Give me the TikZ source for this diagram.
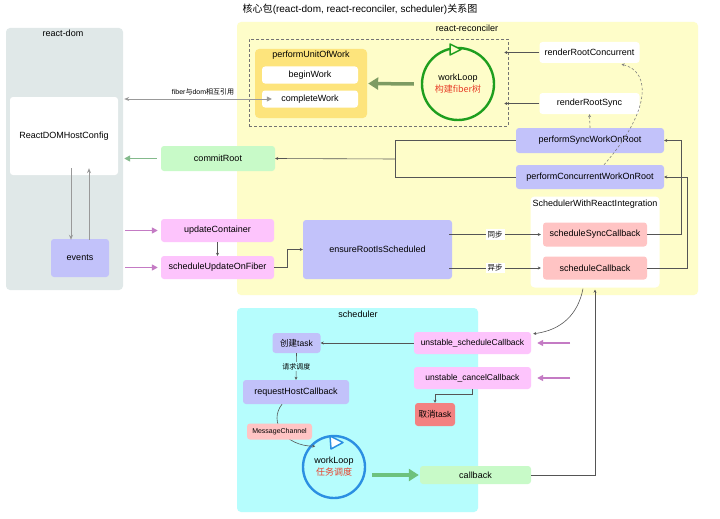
\documentclass[tikz,border=0pt]{standalone}
\usepackage{fontspec}
\setmainfont{Liberation Sans}
\newfontfamily\cjk{Noto Sans CJK SC}
\usetikzlibrary{arrows.meta,calc}
\definecolor{domc}{HTML}{E0E8E8}
\definecolor{recc}{HTML}{FEFDC9}
\definecolor{puowc}{HTML}{FDE47C}
\definecolor{lav}{HTML}{C2C2FA}
\definecolor{pinkc}{HTML}{FDC4FC}
\definecolor{pinkred}{HTML}{FFC4C4}
\definecolor{lgreen}{HTML}{C8FAC8}
\definecolor{cancelc}{HTML}{F38181}
\definecolor{cyanc}{HTML}{B6FDFD}
\definecolor{cgreen}{HTML}{1E9E1E}
\definecolor{cblue}{HTML}{2B8FE2}
\definecolor{redtxt}{HTML}{E8402A}
\definecolor{purparrow}{HTML}{C47BC4}
\definecolor{commitarrow}{HTML}{84BA8C}
\definecolor{olivearrow}{HTML}{7D9B62}
\definecolor{botarrow}{HTML}{6DC27E}
\definecolor{connc}{HTML}{555555}
\newcommand\fsn{\fontsize{9}{11}\selectfont}
\newcommand\fss{\fontsize{8.5}{10}\selectfont}
\newcommand\fst{\fontsize{7}{8}\selectfont}
\tikzset{
  panel/.style={rounded corners=4pt, inner sep=0pt},
  bx/.style={rounded corners=3pt, inner sep=0pt, font=\fsn, align=center},
  lbl/.style={inner sep=0pt, font=\fsn},
  conn/.style={draw=connc, line width=0.6pt},
  tip/.style={-{Stealth[length=3pt,width=3pt]}},
  greyarrow/.style={draw=gray!80, line width=0.8pt, -{Stealth[length=5pt,width=4pt]}},
  purparr/.style={draw=purparrow, line width=1.6pt, -{Triangle[length=6pt,width=6pt]}},
  thickarr/.style={line width=3.5pt, -{Triangle[length=10pt,width=12pt]}},
}
\begin{document}
\begin{tikzpicture}[x=1pt,y=-1pt]
\useasboundingbox (0,0) rectangle (720,519);
\fill[white] (0,0) rectangle (720,519);

% title
\node[lbl, font=\fontsize{10}{12}\selectfont] (title) at (360,9) {{\cjk 核心包}(react-dom, react-reconciler, scheduler){\cjk 关系图}};

% ---------- react-dom ----------
\node[panel, fill=domc, minimum width=117pt, minimum height=262pt] (dom) at (64.5,159) {};
\node[lbl] (domlbl) at (63,33) {react-dom};
\node[bx, fill=white, minimum width=108pt, minimum height=78pt] (hostcfg) at (64,136) {ReactDOMHostConfig};
\node[bx, fill=lav, minimum width=58pt, minimum height=38pt] (events) at (80,258) {events};
\draw[greyarrow] ($(hostcfg.south)+(7,-7)$) -- ($(events.north)+(-9,1)$);
\draw[greyarrow] ($(events.north)+(9,1)$) -- ($(hostcfg.south)+(25,-7)$);

% ---------- react-reconciler ----------
\node[panel, fill=recc, minimum width=461pt, minimum height=273pt] (rec) at (467.5,158.5) {};
\node[lbl] (reclbl) at (467,28) {react-reconciler};
\node[draw=gray!90!black, dashed, dash pattern=on 3pt off 2pt, line width=0.5pt, inner sep=0pt, minimum width=259pt, minimum height=87pt] (dbox) at (378.5,82.5) {};
\node[panel, fill=puowc, minimum width=112pt, minimum height=69pt] (puow) at (311,83.5) {};
\node[lbl] (puowlbl) at (311,55) {performUnitOfWork};
\node[bx, fill=white, minimum width=96pt, minimum height=17pt] (bw) at (310,75) {beginWork};
\node[bx, fill=white, minimum width=96pt, minimum height=17pt] (cw) at (310,99) {completeWork};

\node[circle, draw=cgreen, line width=2.4pt, minimum size=72pt, inner sep=0pt, align=center, font=\fsn] (wl1) at (458,84) {workLoop\\[1pt]{\cjk\color{redtxt}构建fiber树}};
\draw[cgreen, line width=1.5pt, fill=recc, line join=round] (450,44) -- (461,49.5) -- (450,55) -- cycle;
\draw[olivearrow, thickarr] ($(wl1.west)+(-7,0)$) -- ($(puow.east)+(1,0)$);

\node[bx, fill=white, minimum width=100pt, minimum height=21pt] (rrc) at (589.5,52.5) {renderRootConcurrent};
\node[bx, fill=white, minimum width=100pt, minimum height=21pt] (rrs) at (589.5,103.5) {renderRootSync};
\draw[conn, tip] (rrc.west) -- ($(dbox.east |- rrc.west)+(-4,0)$);
\draw[conn, tip] (rrs.west) -- ($(dbox.east |- rrs.west)+(-4,0)$);

\node[bx, fill=lav, minimum width=148pt, minimum height=25pt] (psync) at (590,140.5) {performSyncWorkOnRoot};
\node[bx, fill=lav, minimum width=148pt, minimum height=24pt] (pconc) at (590,177) {performConcurrentWorkOnRoot};
\draw[conn, dashed, dash pattern=on 2.5pt off 2pt, draw=gray, tip] (psync.north) -- (rrs.south);
\draw[conn, dashed, dash pattern=on 2.5pt off 2pt, draw=gray, tip] ($(pconc.north)+(14,0)$) .. controls (650,112) and (652,72) .. ($(rrc.south)+(32,1)$);

\node[bx, fill=lgreen, minimum width=114pt, minimum height=25pt] (commit) at (218,158.5) {commitRoot};
\draw[commitarrow, line width=1.6pt, -{Triangle[length=6pt,width=6pt]}] ($(commit.west)+(-4,0)$) -- ($(dom.east |- commit.west)+(1,0)$);
\coordinate (jx) at (395,159);
\draw[conn] (psync.west) -| (jx);
\draw[conn] (pconc.west) -| (jx);
\draw[conn, tip] (jx) -- (commit.east);

\node[bx, fill=pinkc, minimum width=113pt, minimum height=23pt] (upd) at (217.5,230.5) {updateContainer};
\node[bx, fill=pinkc, minimum width=113pt, minimum height=23pt] (suof) at (217.5,267.5) {scheduleUpdateOnFiber};
\draw[purparr] ($(dom.east |- upd.west)+(2,0)$) -- ($(upd.west)+(-3,0)$);
\draw[purparr] ($(dom.east |- suof.west)+(2,0)$) -- ($(suof.west)+(-3,0)$);
\draw[conn, tip] (upd.south) -- (suof.north);

\node[bx, fill=lav, minimum width=149pt, minimum height=59pt] (ensure) at (377.5,249.5) {ensureRootIsScheduled};
\draw[conn, tip] (suof.east) -- ++(13,0) |- (ensure.west);

\node[panel, fill=white, minimum width=129pt, minimum height=91pt] (swri) at (595,242) {};
\node[lbl] (swrilbl) at (595,204) {SchedulerWithReactIntegration};
\node[bx, fill=pinkred, minimum width=104pt, minimum height=24pt] (ssc) at (595,234.5) {scheduleSyncCallback};
\node[bx, fill=pinkred, minimum width=104pt, minimum height=23pt] (sc) at (595,268) {scheduleCallback};
\draw[conn, tip] ($(ensure.east |- ssc.west)+(-3,0)$) -- node[lbl, fill=white, inner sep=2pt, font=\cjk\fontsize{7.5}{9}\selectfont] (tongbu) {同步} ($(ssc.west)+(-2,0)$);
\draw[conn, tip] ($(ensure.east |- sc.west)+(-3,0)$) -- node[lbl, fill=white, inner sep=2pt, font=\cjk\fontsize{7.5}{9}\selectfont] (yibu) {异步} ($(sc.west)+(-2,0)$);
\draw[conn, tip] (ssc.east) -- ++(34,0) |- (psync.east);
\draw[conn, tip] (sc.east) -- ++(40,0) |- (pconc.east);

% ---------- scheduler ----------
\node[panel, fill=cyanc, minimum width=241pt, minimum height=204pt] (sched) at (357.5,410) {};
\node[lbl] (schedlbl) at (358,314) {scheduler};
\node[bx, fill=lav, minimum width=48pt, minimum height=20pt, font=\fss] (ctask) at (296.5,343) {{\cjk 创建}task};
\node[bx, fill=lav, minimum width=106pt, minimum height=24pt] (rhc) at (296,392) {requestHostCallback};
\draw[conn, tip] (ctask.south) -- node[lbl, fill=cyanc, inner sep=1pt, font=\cjk\fontsize{7}{8}\selectfont] (qqdd) {请求调度} (rhc.north);

\node[circle, draw=cblue, line width=2.4pt, minimum size=62pt, inner sep=0pt, align=center, font=\fsn] (wl2) at (334,467) {workLoop\\[1pt]{\cjk\color{redtxt}任务调度}};
\draw[cblue, line width=1.5pt, fill=white, line join=round] (330,436) -- (343,442.5) -- (331,449) -- cycle;
\draw[conn, tip] ($(rhc.south)+(-14,0)$) .. controls (268,422) and (285,446) .. ($(wl2.north west)+(4,2)$);
\node[bx, fill=pinkred, minimum width=65pt, minimum height=16pt, font=\fst] (mc) at (279.5,431.5) {MessageChannel};

\node[bx, fill=lgreen, minimum width=111pt, minimum height=18pt] (callback) at (475.5,475) {callback};
\draw[botarrow, thickarr] ($(wl2.center)+(38,8)$) -- ($(callback.west)+(-1,0)$);

\node[bx, fill=pinkc, minimum width=117pt, minimum height=22pt, font=\fss] (usc) at (472.5,343) {unstable\_scheduleCallback};
\node[bx, fill=pinkc, minimum width=117pt, minimum height=22pt, font=\fss] (ucc) at (472.5,378) {unstable\_cancelCallback};
\node[bx, fill=cancelc, minimum width=40pt, minimum height=23pt, font=\fss] (cancel) at (435,414.5) {{\cjk 取消}task};
\draw[conn, tip] (usc.west) -- (ctask.east);
\draw[conn, tip] (ucc.south) -- ++(0,5) -| (cancel.north);
\draw[purparr] ($(usc.east)+(39,0)$) -- ($(usc.east)+(6,0)$);
\draw[purparr] ($(ucc.east)+(39,0)$) -- ($(ucc.east)+(6,0)$);

\draw[conn, tip] (callback.east) -| ($(swri.south)+(0,2)$);
\draw[conn, tip] ($(swri.south)+(-12,1)$) .. controls (578,314) and (562,330) .. ($(usc.north east)+(2,2)$);

% fiber <-> dom
\draw[draw=gray!80, line width=0.8pt, {Stealth[length=5pt,width=4pt]}-{Triangle[length=5pt,width=5pt]}] ($(dom.east |- cw.west)+(1,0)$) -- ($(cw.west)+(10,0)$);
\node[lbl, font=\fontsize{7}{8}\selectfont] (fdl) at (203,92) {fiber{\cjk 与}dom{\cjk 相互引用}};
\end{tikzpicture}
\end{document}
